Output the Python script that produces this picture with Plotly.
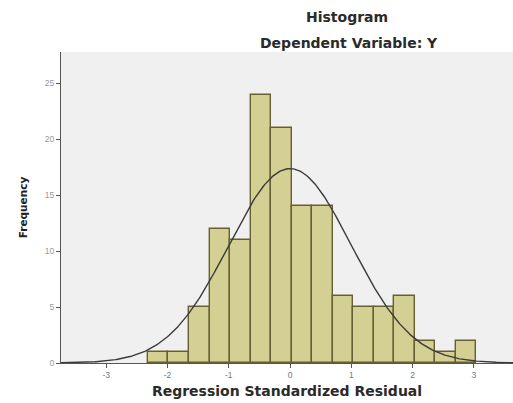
import numpy as np
import plotly.graph_objects as go

# Histogram data
bin_start = -2.32
bin_width = 0.335
counts = [1, 1, 5, 12, 11, 24, 21, 14, 14, 6, 5, 5, 6, 2, 1, 2]

# Normal curve parameters (SPSS fitted curve)
resid_mean = 0.0
resid_sd = 1.0
n_obs = sum(counts)

x_ticks = [-3, -2, -1, 0, 1, 2, 3]
y_ticks = [0, 5, 10, 15, 20, 25]

title_line1 = "Histogram"
title_line2 = "Dependent Variable: Y"
x_title = "Regression Standardized Residual"
y_title = "Frequency"

x_range = [-3.74, 3.64]
y_range = [0, 27.8]

W, H = 513, 403
ML, MR, MT, MB = 61, 0, 52, 40
pw = W - ML - MR
ph = H - MT - MB


def px_x(px):
    return (px - ML) / pw


def px_y(py):
    return (H - MB - py) / ph


centers = [bin_start + bin_width * (i + 0.5) for i in range(len(counts))]

xc = np.linspace(x_range[0], x_range[1], 400)
yc = n_obs * bin_width / (resid_sd * np.sqrt(2 * np.pi)) * np.exp(-0.5 * ((xc - resid_mean) / resid_sd) ** 2)

TF = "DejaVu Sans, Verdana, sans-serif"

fig = go.Figure()
fig.add_trace(go.Bar(
    x=centers, y=counts, width=[bin_width] * len(counts),
    marker=dict(color="#d4cf92", line=dict(color="#665f33", width=1.4)),
    showlegend=False,
))
fig.add_trace(go.Scatter(
    x=xc, y=yc, mode="lines",
    line=dict(color="#3a3a3a", width=1.4),
    showlegend=False,
))

fig.update_layout(
    width=W, height=H,
    margin=dict(l=ML, r=MR, t=MT, b=MB),
    paper_bgcolor="white",
    plot_bgcolor="#f0f0f0",
    font=dict(family="Liberation Sans, Arial, sans-serif", color="#222"),
    bargap=0,
    annotations=[
        dict(text="<b>" + title_line1 + "</b>", x=px_x(347), y=px_y(17), xref="paper", yref="paper",
             xanchor="center", yanchor="middle",
             showarrow=False, font=dict(family=TF, size=14, color="#2a2a2a")),
        dict(text="<b>" + title_line2 + "</b>", x=px_x(349), y=px_y(43), xref="paper", yref="paper",
             xanchor="center", yanchor="middle",
             showarrow=False, font=dict(family=TF, size=14, color="#2a2a2a")),
    ],
)

fig.update_xaxes(
    range=x_range, tickvals=x_ticks, ticktext=[str(v) for v in x_ticks],
    showgrid=False, zeroline=False,
    showline=True, linecolor="#555", linewidth=1.2,
    ticks="outside", ticklen=4, tickcolor="#555",
    tickfont=dict(size=8.5, color="#777"),
    title=dict(text="<b>" + x_title + "</b>", font=dict(family=TF, size=14, color="#2a2a2a"), standoff=6),
)
fig.update_yaxes(
    range=y_range, tickvals=y_ticks, ticktext=[str(v) for v in y_ticks],
    showgrid=False, zeroline=False,
    showline=True, linecolor="#555", linewidth=1.2,
    ticks="outside", ticklen=4, tickcolor="#555",
    tickfont=dict(size=8.5, color="#999"),
    title=dict(text="<b>" + y_title + "</b>", font=dict(family=TF, size=10.5, color="#222"), standoff=15),
)

fig.write_html("out.html", config={"displayModeBar": False},
               post_script="document.body.style.margin='0';")
